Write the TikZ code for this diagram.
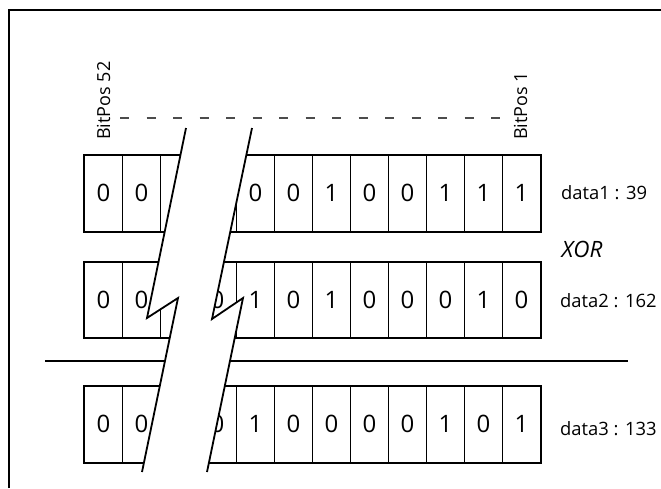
\documentclass[tikz,border=0pt]{standalone}
\usepackage{fontspec}
\setmainfont{Open Sans}
\begin{document}
\begin{tikzpicture}[x=1pt,y=-1pt,
  cellbox/.style={draw, line width=0.8pt, minimum width=38pt, minimum height=#1,
    inner sep=0pt, anchor=north west, font=\fontsize{24}{26}\selectfont},
  rowframe/.style={draw, line width=2pt},
  datalbl/.style={anchor=west, inner sep=0pt, font=\fontsize{18.4}{20}\selectfont},
  poslbl/.style={anchor=west, rotate=90, inner sep=0pt, font=\fontsize{18}{20}\selectfont},
  breakline/.style={line width=1.8pt, line join=miter},
  thickline/.style={line width=2pt}]
\useasboundingbox (0,0) rectangle (661,488);

% bit rows
\foreach \r/\y/\h/\bits in {1/155/76/{0,0,{},{},0,0,1,0,0,1,1,1},
                             2/262/75/{0,0,{},0,1,0,1,0,0,0,1,0},
                             3/386/76/{0,0,{},0,1,0,0,0,0,1,0,1}}{
  \foreach \b [count=\i] in \bits {
    \node[cellbox=\h pt] (r\r-\i) at ({84+38*(\i-1)},\y) {\b};
  }
  \draw[rowframe] (r\r-1.north west) rectangle (r\r-12.south east);
}

% separator line
\coordinate (sepL) at (45,361);
\coordinate (sepR) at (628,361);
\draw[thickline] (sepL) -- (sepR);

% dashed bit position line
\coordinate (dashL) at (120,118);
\coordinate (dashR) at (502,118);
\draw[line width=1.3pt, black!70, dash pattern=on 9pt off 17.5pt] (dashL) -- (dashR);

% break symbol
\coordinate (L1) at (186,128);
\coordinate (L2) at (147,318);
\coordinate (L3) at (178,298);
\coordinate (L4) at (142,472);
\coordinate (R1) at (252,128);
\coordinate (R2) at (212,319);
\coordinate (R3) at (243,298);
\coordinate (R4) at (207,472);
\fill[white] (L1) -- (L2) -- (L3) -- (L4) -- (R4) -- (R3) -- (R2) -- (R1) -- cycle;
\draw[breakline] (L1) -- (L2) -- (L3) -- (L4);
\draw[breakline] (R1) -- (R2) -- (R3) -- (R4);

% labels
\node[poslbl] (bp52) at (103.5,140) {BitPos 52};
\node[poslbl] (bp1) at (520.5,140) {BitPos 1};
\node[datalbl] (d1) at (561,193) {data1 : 39};
\node[font=\fontsize{22.5}{24}\selectfont\itshape] (xor) at (582,249) {XOR};
\node[datalbl] (d2) at (560,301) {data2 : 162};
\node[datalbl] (d3) at (560,429) {data3 : 133};

% outer frame (cropped)
\coordinate (fB) at (8.5,488);
\coordinate (fTL) at (8.5,10);
\coordinate (fR) at (661,10);
\draw[thickline] (fB) -- (fTL) -- (fR);
\end{tikzpicture}
\end{document}
